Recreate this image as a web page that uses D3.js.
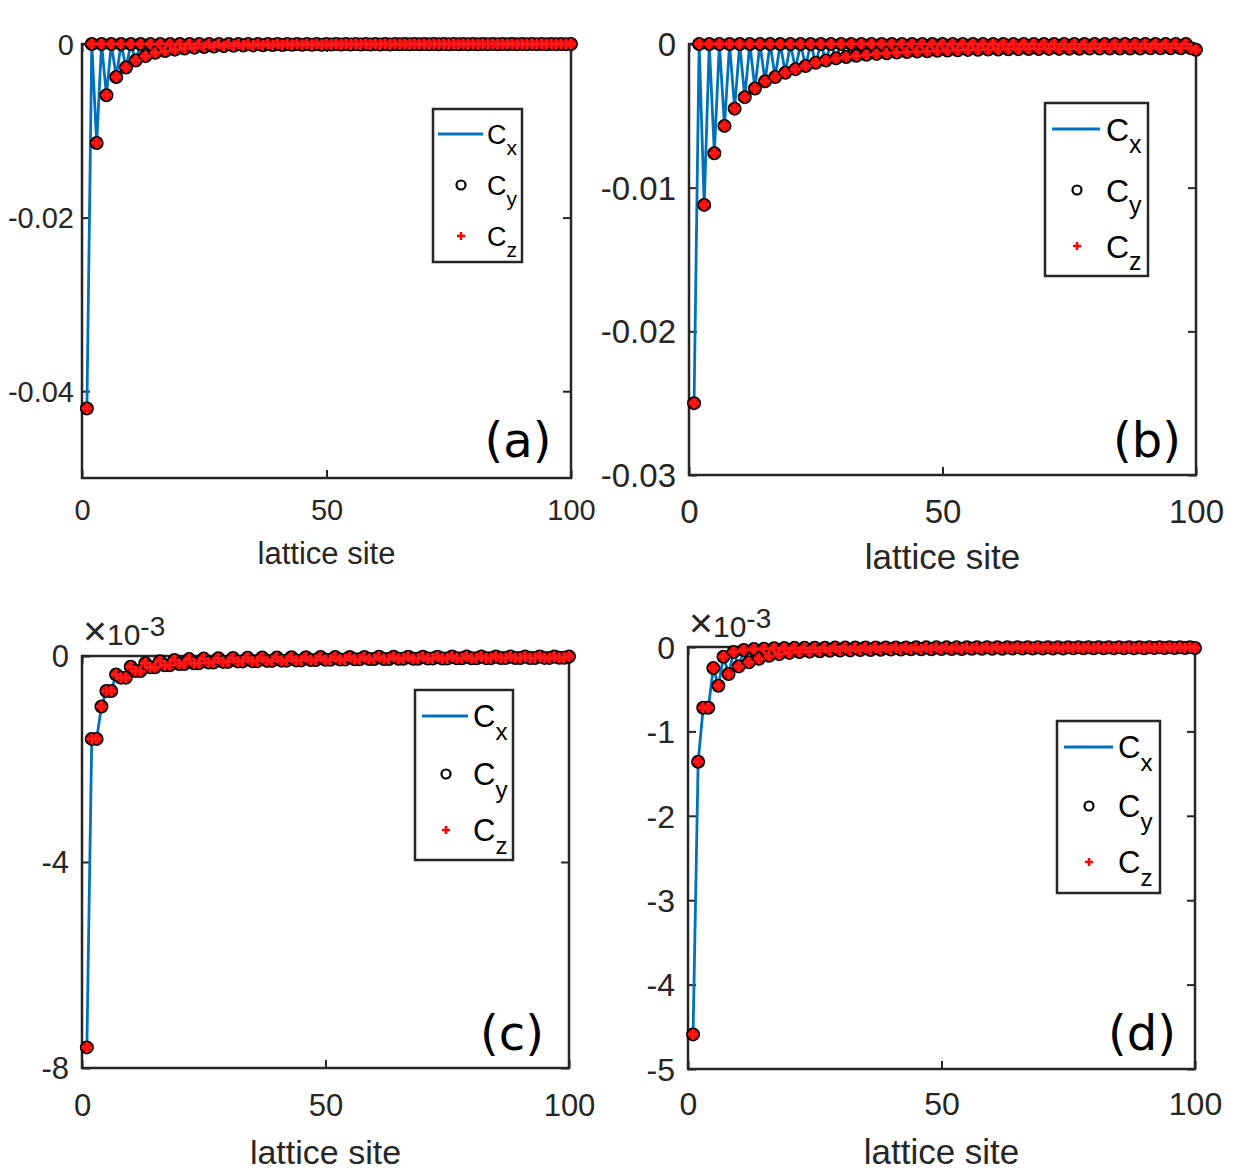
<!DOCTYPE html>
<html lang="en">
<head>
<meta charset="utf-8">
<title>Correlations vs lattice site</title>
<script src="https://d3js.org/d3.v7.min.js"></script>
<style>
  body { margin: 0; background: #fff; }
  svg { display: block; }
</style>
</head>
<body>
<svg id="fig" width="1240" height="1175"></svg>
<script>
// values, site 1..100 (Cx = Cy = Cz on every panel)
const corrA = [
  -0.0420, 0, -0.0114, 0, -0.0059, 0, -0.0038, 0, -0.0027, 0,
  -0.0019, 0, -0.0014, 0, -0.0010, 0, -0.0008, 0, -0.00065, 0,
  -0.00052, 0, -0.00042, 0, -0.00035, 0, -0.00029, 0, -0.00025, 0,
  -0.00021, 0, -0.00018, 0, -0.00016, 0, -0.00014, 0, -0.00012, 0,
  -0.00011, 0, -0.0001, 0, -0.00009, 0, -0.00008, 0, -0.00008, 0,
  -0.00007, 0, -0.00007, 0, -0.00006, 0, -0.00006, 0, -0.00005, 0,
  -0.00005, 0, -0.00005, 0, -0.00004, 0, -0.00004, 0, -0.00004, 0,
  -0.00004, 0, -0.00003, 0, -0.00003, 0, -0.00003, 0, -0.00003, 0,
  -0.00003, 0, -0.00002, 0, -0.00002, 0, -0.00002, 0, -0.00002, 0,
  -0.00002, 0, -0.00002, 0, -0.00002, 0, -0.00002, 0, -0.00002, 0
];
const corrB = [
  -0.0250, 0, -0.0112, 0, -0.0076, 0, -0.0057, 0, -0.0045, 0,
  -0.0037, 0, -0.0031, 0, -0.0026, 0, -0.0023, 0, -0.0020, 0,
  -0.00175, 0, -0.00153, 0, -0.0013, 0, -0.00115, 0, -0.001, 0,
  -0.0009, 0, -0.00082, 0, -0.00075, 0, -0.00069, 0, -0.00064, 0,
  -0.0006, 0, -0.00056, 0, -0.00053, 0, -0.0005, 0, -0.00047, 0,
  -0.00045, 0, -0.00043, 0, -0.00041, 0, -0.0004, 0, -0.00039, 0,
  -0.00038, 0, -0.00037, 0, -0.00036, 0, -0.00035, 0, -0.00035, 0,
  -0.00034, 0, -0.00034, 0, -0.00033, 0, -0.00033, 0, -0.00032, 0,
  -0.00032, 0, -0.00032, 0, -0.00031, 0, -0.00031, 0, -0.00031, 0,
  -0.0003, 0, -0.0003, 0, -0.0003, 0, -0.0003, 0, -0.0003, -0.0004
];
// panels c and d are in units of 1e-3
const corrC = [
  -7.6, -1.61, -1.61, -0.98, -0.68, -0.68, -0.36, -0.42, -0.42, -0.21,
  -0.29, -0.29, -0.14, -0.22, -0.22, -0.1, -0.18, -0.18, -0.08, -0.155,
  -0.155, -0.06, -0.14, -0.14, -0.05, -0.125, -0.125, -0.045, -0.115, -0.115,
  -0.04, -0.105, -0.105, -0.035, -0.1, -0.1, -0.03, -0.095, -0.095, -0.03,
  -0.09, -0.09, -0.025, -0.085, -0.085, -0.025, -0.08, -0.08, -0.02, -0.075,
  -0.075, -0.02, -0.07, -0.07, -0.02, -0.065, -0.065, -0.02, -0.06, -0.06,
  -0.015, -0.058, -0.058, -0.015, -0.055, -0.055, -0.015, -0.053, -0.053, -0.015,
  -0.05, -0.05, -0.015, -0.048, -0.048, -0.01, -0.046, -0.046, -0.01, -0.044,
  -0.044, -0.01, -0.042, -0.042, -0.01, -0.04, -0.04, -0.01, -0.039, -0.039,
  -0.01, -0.038, -0.038, -0.01, -0.037, -0.037, -0.01, -0.036, -0.036, -0.01
];
const corrD = [
  -4.59, -1.36, -0.72, -0.72, -0.25, -0.46, -0.115, -0.32, -0.06, -0.23,
  -0.035, -0.18, -0.025, -0.14, -0.02, -0.105, -0.015, -0.085, -0.012, -0.07,
  -0.01, -0.06, -0.01, -0.055, -0.008, -0.05, -0.008, -0.045, -0.007, -0.042,
  -0.007, -0.04, -0.006, -0.037, -0.006, -0.035, -0.005, -0.033, -0.005, -0.031,
  -0.005, -0.03, -0.005, -0.028, -0.004, -0.027, -0.004, -0.026, -0.004, -0.025,
  -0.004, -0.024, -0.004, -0.023, -0.003, -0.022, -0.003, -0.021, -0.003, -0.02,
  -0.003, -0.02, -0.003, -0.019, -0.003, -0.019, -0.003, -0.018, -0.003, -0.018,
  -0.002, -0.017, -0.002, -0.017, -0.002, -0.016, -0.002, -0.016, -0.002, -0.015,
  -0.002, -0.015, -0.002, -0.015, -0.002, -0.014, -0.002, -0.014, -0.002, -0.014,
  -0.002, -0.013, -0.002, -0.013, -0.002, -0.013, -0.002, -0.012, -0.002, -0.012
];

const xTicks = [0, 50, 100];
const yTicksA = [0, -0.02, -0.04];
const yTicksB = [0, -0.01, -0.02, -0.03];
const yTicksC = [0, -4, -8];
const yTicksD = [0, -1, -2, -3, -4, -5];
const seriesNames = ["x", "y", "z"];   // C_x line, C_y circles, C_z plus

const ink = "#262626";
const blue = "#0072BD";
const sans = "'Liberation Sans', Arial, Helvetica, sans-serif";

let svg = d3.select("#fig");

const panels = [
  { data: corrA, ymin: -0.05, yTicks: yTicksA, tag: "(a)",
    left: 82, right: 571, top: 44, bottom: 478,
    tickFont: 29, labFont: 31, xLabOff: 32, titleOff: 75, yLabOff: 8,
    leg: { x: 433, y: 109, w: 89, h: 153, l1: 438, l2: 483, tx: 487, cx: 461, rows: [134, 185, 236], font: 27 },
    tagX: 518, tagY: 457 },
  { data: corrB, ymin: -0.03, yTicks: yTicksB, tag: "(b)",
    left: 689, right: 1196, top: 44, bottom: 475,
    tickFont: 33, labFont: 35, xLabOff: 36, titleOff: 82, yLabOff: 13,
    leg: { x: 1045, y: 103, w: 103, h: 173, l1: 1052, l2: 1100, tx: 1106, cx: 1077, rows: [129, 190, 246], font: 32 },
    tagX: 1147, tagY: 457 },
  { data: corrC, ymin: -8, yTicks: yTicksC, tag: "(c)", expoY: 645,
    left: 82, right: 569, top: 656, bottom: 1068,
    tickFont: 31, labFont: 34, xLabOff: 37, titleOff: 84, yLabOff: 13,
    leg: { x: 415, y: 690, w: 98, h: 170, l1: 422, l2: 468, tx: 473, cx: 446, rows: [716, 774, 830], font: 31 },
    tagX: 512, tagY: 1050 },
  { data: corrD, ymin: -5, yTicks: yTicksD, tag: "(d)", expoY: 637,
    left: 688, right: 1195, top: 647, bottom: 1069,
    tickFont: 32, labFont: 35, xLabOff: 35, titleOff: 83, yLabOff: 13,
    leg: { x: 1057, y: 721, w: 103, h: 172, l1: 1064, l2: 1113, tx: 1118, cx: 1089, rows: [747, 806, 862], font: 31 },
    tagX: 1142, tagY: 1050 }
];

const plusPath = s => `M${-s},0H${s}M0,${-s}V${s}`;

function styleAxis(g, p) {
  g.select(".domain").remove();
  g.selectAll("line").attr("stroke", ink).attr("stroke-width", 2);
  g.selectAll("text").attr("fill", ink).attr("font-size", p.tickFont).attr("font-family", sans);
  g.attr("font-size", null).attr("font-family", null);
}

function drawPanel(p) {
  let x = d3.scaleLinear().domain([0, 100]).range([p.left, p.right]);
  let y = d3.scaleLinear().domain([p.ymin, 0]).range([p.bottom, p.top]);
  let g = svg.append("g");

  g.append("rect")
    .attr("x", p.left).attr("y", p.top)
    .attr("width", p.right - p.left).attr("height", p.bottom - p.top)
    .attr("fill", "#fff").attr("stroke", ink).attr("stroke-width", 2.5);

  // inward ticks on all four sides, like matlab box on
  let gb = g.append("g").attr("transform", `translate(0,${p.bottom})`)
    .call(d3.axisBottom(x).tickValues(xTicks).tickSize(-8).tickFormat(d3.format("d")));
  styleAxis(gb, p);
  gb.selectAll("text").attr("y", p.xLabOff).attr("dy", "0.35em");

  let gt = g.append("g").attr("transform", `translate(0,${p.top})`)
    .call(d3.axisTop(x).tickValues(xTicks).tickSize(-8).tickFormat(""));
  styleAxis(gt, p);

  let gl = g.append("g").attr("transform", `translate(${p.left},0)`)
    .call(d3.axisLeft(y).tickValues(p.yTicks).tickSize(-8).tickFormat(d => String(d)));
  styleAxis(gl, p);
  gl.selectAll("text").attr("x", -p.yLabOff).attr("dy", "0.35em");

  let gr = g.append("g").attr("transform", `translate(${p.right},0)`)
    .call(d3.axisRight(y).tickValues(p.yTicks).tickSize(-8).tickFormat(""));
  styleAxis(gr, p);

  g.append("text")
    .attr("x", (p.left + p.right) / 2).attr("y", p.bottom + p.titleOff)
    .attr("dy", "0.35em").attr("text-anchor", "middle")
    .attr("font-family", sans).attr("font-size", p.labFont).attr("fill", ink)
    .text("lattice site");

  if (p.expoY) {
    let e = g.append("text")
      .attr("x", p.left + 1).attr("y", p.expoY)
      .attr("font-family", sans).attr("font-size", 30).attr("fill", ink);
    e.append("tspan").attr("font-size", 41).text("\u00d7");
    e.append("tspan").text("10");
    e.append("tspan").attr("dy", -9).attr("font-size", 28).text("-3");
  }

  // C_x line
  let line = d3.line().x((d, i) => x(i + 1)).y(d => y(d));
  g.append("path").datum(p.data)
    .attr("d", line).attr("fill", "none")
    .attr("stroke", blue).attr("stroke-width", 2.8).attr("stroke-linejoin", "round");

  // C_y circles
  g.append("g").selectAll("circle")
    .data(p.data).join("circle")
    .attr("cx", (d, i) => x(i + 1)).attr("cy", d => y(d)).attr("r", 6)
    .attr("fill", "#ff0000").attr("stroke", "#000").attr("stroke-width", 2);

  // C_z plus
  g.append("g").selectAll("path")
    .data(p.data).join("path")
    .attr("transform", (d, i) => `translate(${x(i + 1)},${y(d)})`)
    .attr("d", plusPath(5.5))
    .attr("stroke", "#ff1a1a").attr("stroke-width", 2.6).attr("fill", "none");

  // legend
  let L = p.leg;
  let lg = g.append("g");
  lg.append("rect").attr("x", L.x).attr("y", L.y).attr("width", L.w).attr("height", L.h)
    .attr("fill", "#fff").attr("stroke", ink).attr("stroke-width", 2.5);
  lg.append("line").attr("x1", L.l1).attr("x2", L.l2).attr("y1", L.rows[0]).attr("y2", L.rows[0])
    .attr("stroke", blue).attr("stroke-width", 2.8);
  lg.append("circle").attr("cx", L.cx).attr("cy", L.rows[1]).attr("r", 4.5)
    .attr("fill", "none").attr("stroke", "#000").attr("stroke-width", 2.2);
  lg.append("path").attr("transform", `translate(${L.cx},${L.rows[2]})`)
    .attr("d", plusPath(4)).attr("stroke", "#ff0000").attr("stroke-width", 2.6);
  seriesNames.forEach((s, k) => {
    let t = lg.append("text")
      .attr("x", L.tx).attr("y", L.rows[k] + L.font * 0.36)
      .attr("font-family", sans).attr("font-size", L.font).attr("fill", "#000");
    t.append("tspan").text("C");
    t.append("tspan").attr("dy", L.font * 0.4).attr("font-size", L.font * 0.78).text(s);
  });

  g.append("text")
    .attr("x", p.tagX).attr("y", p.tagY).attr("text-anchor", "middle")
    .attr("font-family", "'DejaVu Sans', sans-serif").attr("font-size", 48).attr("fill", "#000")
    .text(p.tag);
}

panels.forEach(drawPanel);
</script>
</body>
</html>
